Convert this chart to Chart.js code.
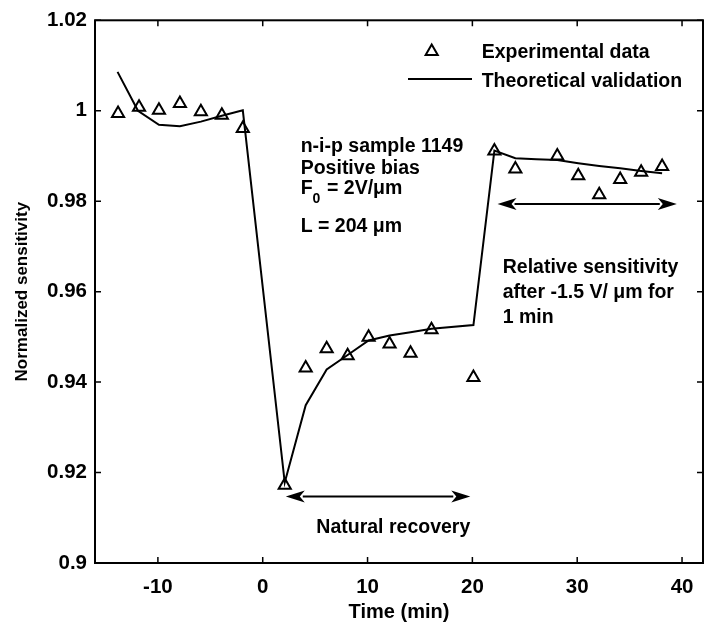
<!DOCTYPE html>
<html>
<head>
<meta charset="utf-8">
<script src="https://cdn.jsdelivr.net/npm/chart.js@4/dist/chart.umd.min.js"></script>
<style>
  html, body { margin: 0; padding: 0; background: #fff; overflow: hidden; }
  #wrap { width: 712px; height: 626px; }
</style>
</head>
<body>
<div id="wrap"><canvas id="c" width="712" height="626"></canvas></div>
<script>
// Time (min) and normalized sensitivity of sample 1149
const expTime = [-13.8, -11.8, -9.9, -7.9, -5.9, -3.9, -1.9, 2.1, 4.1, 6.1, 8.1, 10.1, 12.1, 14.1, 16.1, 20.1, 22.1, 24.1, 28.1, 30.1, 32.1, 34.1, 36.1, 38.1];
const expSens = [0.9994, 1.0008, 1.0001, 1.0016, 0.9998, 0.9990, 0.9961, 0.9172, 0.9431, 0.9474, 0.9458, 0.9499, 0.9484, 0.9464, 0.9516, 0.9410, 0.9911, 0.9871, 0.9900, 0.9856, 0.9814, 0.9848, 0.9864, 0.9877];

const theoTime = [-13.85, -11.9, -9.9, -7.9, -5.9, -3.9, -1.9, 2.1, 4.1, 6.1, 8.1, 10.1, 12.1, 14.1, 16.1, 20.1, 22.1, 24.1, 26.1, 28.1, 30.1, 32.1, 34.1, 36.1, 38.1];
const theoSens = [1.0086, 1.0000, 0.9969, 0.9966, 0.9976, 0.9989, 1.0001, 0.9178, 0.9349, 0.9428, 0.9460, 0.9492, 0.9503, 0.9510, 0.9518, 0.9526, 0.9912, 0.9895, 0.9893, 0.9891, 0.9884, 0.9878, 0.9873, 0.9867, 0.9862];

const xTicks = [-10, 0, 10, 20, 30, 40];
const yTicks = [0.9, 0.92, 0.94, 0.96, 0.98, 1.0, 1.02];
const yTickLabels = ['0.9', '0.92', '0.94', '0.96', '0.98', '1', '1.02'];

// Double-headed arrows marking the two phases: [from, to, level]
const recoveryArrow = [2.2, 19.8, 0.9147];
const relativeArrow = [22.4, 39.5, 0.9794];

const FONT = '"Liberation Sans", Arial, sans-serif';
const BOLD = 'bold 19.5px ' + FONT;

function toPoints(xs, ys) { return xs.map((x, i) => ({ x: x, y: ys[i] })); }

function triangle(ctx, x, y, r) {
  ctx.beginPath();
  ctx.moveTo(x, y - r);
  ctx.lineTo(x + Math.sin(2 * Math.PI / 3) * r, y - Math.cos(2 * Math.PI / 3) * r);
  ctx.lineTo(x + Math.sin(4 * Math.PI / 3) * r, y - Math.cos(4 * Math.PI / 3) * r);
  ctx.closePath();
  ctx.stroke();
}

function arrow(ctx, x1, x2, y) {
  const head = 19, half = 6;
  ctx.beginPath();
  ctx.moveTo(x1 + head - 2, y);
  ctx.lineTo(x2 - head + 2, y);
  ctx.stroke();
  ctx.beginPath();
  ctx.moveTo(x1, y); ctx.lineTo(x1 + head, y - half); ctx.lineTo(x1 + head - 5, y); ctx.lineTo(x1 + head, y + half); ctx.closePath();
  ctx.fill();
  ctx.beginPath();
  ctx.moveTo(x2, y); ctx.lineTo(x2 - head, y - half); ctx.lineTo(x2 - head + 5, y); ctx.lineTo(x2 - head, y + half); ctx.closePath();
  ctx.fill();
}

const framePlugin = {
  id: 'frame',
  afterDraw(chart) {
    const ctx = chart.ctx;
    const a = chart.chartArea;
    const xs = chart.scales.x, ys = chart.scales.y;
    ctx.save();
    ctx.strokeStyle = '#000';
    ctx.fillStyle = '#000';
    ctx.lineWidth = 2;
    ctx.strokeRect(a.left, a.top, a.right - a.left, a.bottom - a.top);

    // inward tick marks on all four sides
    ctx.lineWidth = 1.5;
    const tl = 6;
    ctx.beginPath();
    xTicks.forEach(v => {
      const px = xs.getPixelForValue(v);
      ctx.moveTo(px, a.bottom); ctx.lineTo(px, a.bottom - tl);
      ctx.moveTo(px, a.top); ctx.lineTo(px, a.top + tl);
    });
    yTicks.forEach(v => {
      const py = ys.getPixelForValue(v);
      ctx.moveTo(a.left, py); ctx.lineTo(a.left + tl, py);
      ctx.moveTo(a.right, py); ctx.lineTo(a.right - tl, py);
    });
    ctx.stroke();

    // axis titles
    ctx.font = 'bold 20px ' + FONT;
    ctx.textAlign = 'center';
    ctx.textBaseline = 'middle';
    ctx.fillText('Time (min)', (a.left + a.right) / 2, 612);
    ctx.save();
    ctx.translate(22, (a.top + a.bottom) / 2);
    ctx.rotate(-Math.PI / 2);
    ctx.font = 'bold 17px ' + FONT;
    ctx.fillText('Normalized sensitivity', 0, 0);
    ctx.restore();

    // legend
    ctx.lineWidth = 2;
    triangle(ctx, 431.7, 51.5, 7);
    ctx.beginPath();
    ctx.moveTo(408, 79); ctx.lineTo(472, 79);
    ctx.stroke();
    ctx.font = BOLD;
    ctx.textAlign = 'left';
    ctx.textBaseline = 'alphabetic';
    ctx.fillText('Experimental data', 481.7, 58.3);
    ctx.fillText('Theoretical validation', 481.7, 86.7);

    // sample description
    ctx.fillText('n-i-p sample 1149', 300.7, 152);
    ctx.fillText('Positive bias', 300.7, 174);
    ctx.fillText('F', 300.7, 194);
    const fw = ctx.measureText('F').width;
    ctx.fillText(' = 2V/\u03bcm', 300.7 + fw + 9, 194);
    ctx.font = 'bold 14px ' + FONT;
    ctx.fillText('0', 300.7 + fw, 203);
    ctx.font = BOLD;
    ctx.fillText('L = 204 \u03bcm', 300.7, 231.7);

    // phase annotations
    ctx.fillText('Relative sensitivity', 502.7, 273);
    ctx.fillText('after -1.5 V/ \u03bcm for', 502.7, 298);
    ctx.fillText('1 min', 502.7, 323);
    ctx.textAlign = 'center';
    ctx.fillText('Natural recovery', 393.3, 533);

    ctx.lineWidth = 2;
    arrow(ctx, xs.getPixelForValue(recoveryArrow[0]), xs.getPixelForValue(recoveryArrow[1]), ys.getPixelForValue(recoveryArrow[2]));
    arrow(ctx, xs.getPixelForValue(relativeArrow[0]), xs.getPixelForValue(relativeArrow[1]), ys.getPixelForValue(relativeArrow[2]));
    ctx.restore();
  }
};

new Chart(document.getElementById('c'), {
  type: 'scatter',
  data: {
    datasets: [
      {
        label: 'Theoretical validation',
        data: toPoints(theoTime, theoSens),
        showLine: true,
        borderColor: '#000',
        borderWidth: 2,
        pointRadius: 0,
        fill: false,
        tension: 0
      },
      {
        label: 'Experimental data',
        data: toPoints(expTime, expSens),
        pointStyle: 'triangle',
        pointRadius: 7,
        pointBorderWidth: 2,
        borderColor: '#000',
        backgroundColor: 'rgba(0,0,0,0)',
        showLine: false
      }
    ]
  },
  options: {
    responsive: false,
    devicePixelRatio: 1,
    animation: false,
    layout: { padding: { top: 17, right: 5, left: 0, bottom: 0 } },
    plugins: { legend: { display: false }, tooltip: { enabled: false } },
    scales: {
      x: {
        type: 'linear',
        min: -16, max: 42,
        grid: { display: false, drawTicks: false },
        border: { display: false },
        afterBuildTicks: s => { s.ticks = xTicks.map(v => ({ value: v })); },
        afterFit: s => { s.height = 63; },
        ticks: {
          color: '#000',
          font: { family: FONT, size: 20.5, weight: 'bold' },
          padding: 12,
          callback: v => String(v)
        }
      },
      y: {
        type: 'linear',
        min: 0.9, max: 1.02,
        grid: { display: false, drawTicks: false },
        border: { display: false },
        afterBuildTicks: s => { s.ticks = yTicks.map(v => ({ value: v })); },
        afterFit: s => { s.width = 95; },
        ticks: {
          color: '#000',
          font: { family: FONT, size: 20.5, weight: 'bold' },
          padding: 8,
          callback: v => {
            const i = yTicks.findIndex(t => Math.abs(t - v) < 1e-9);
            return i >= 0 ? yTickLabels[i] : '';
          }
        }
      }
    }
  },
  plugins: [framePlugin]
});
</script>
</body>
</html>
